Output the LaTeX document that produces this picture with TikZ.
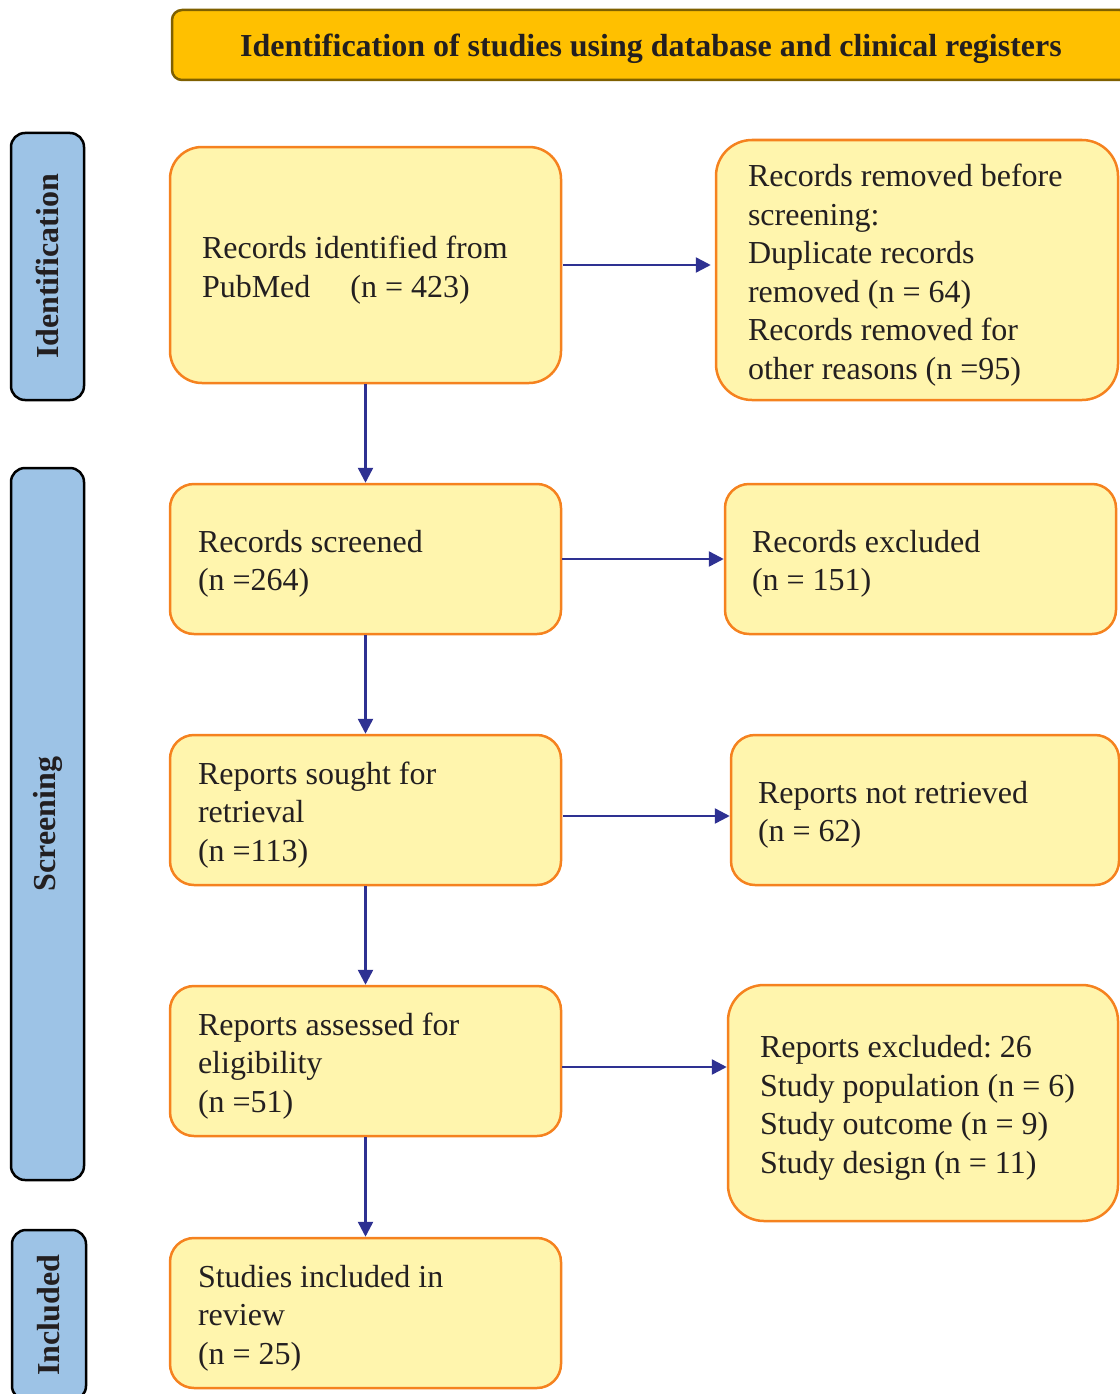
\documentclass[tikz,border=0pt]{standalone}
\usepackage{fontspec}
\setmainfont{Liberation Serif}
\usetikzlibrary{arrows.meta}
\definecolor{hdrfill}{HTML}{FFC000}
\definecolor{hdrline}{HTML}{7F6000}
\definecolor{boxfill}{HTML}{FFF5AD}
\definecolor{boxline}{HTML}{F5821F}
\definecolor{sidefill}{HTML}{9DC3E6}
\definecolor{arrowc}{HTML}{2E3192}
\definecolor{inkc}{HTML}{231F20}
\tikzset{
  hdr/.style={draw=hdrline, fill=hdrfill, line width=2.5pt, rounded corners=10pt, inner sep=0pt},
  hdrtext/.style={font=\fontsize{32}{38.5}\selectfont\bfseries, text=inkc, inner sep=0pt},
  side/.style={draw=black, fill=sidefill, line width=2.5pt, rounded corners=14pt,
    rotate=90, inner sep=0pt, text=inkc, font=\fontsize{32}{38.5}\selectfont\bfseries},
  flowbox/.style={draw=boxline, fill=boxfill, line width=2.5pt, inner sep=0pt},
  boxtext/.style={align=flush left, inner sep=0pt, text=inkc, font=\fontsize{32}{38.5}\selectfont},
  conn/.style={draw=arrowc, line width=2.5pt, -{Triangle[length=15pt,width=15pt]}},
}
\begin{document}
\frenchspacing
\begin{tikzpicture}[x=1pt,y=-1pt]
\useasboundingbox (0,0) rectangle (1119,1394);
% header
\node[hdr, minimum width=958pt, minimum height=70pt] (hdr) at (651,45) {};
\node[hdrtext] (hdrtxt) at (651,49)
  {Identification of studies using database and clinical registers};
% side labels
\node[side, minimum width=267pt, minimum height=73pt] (sid) at (47.5,266.5) {Identification};
\node[side, minimum width=712pt, minimum height=73pt] (sscr) at (47.5,824) {Screening};
\node[side, minimum width=170pt, minimum height=74pt] (sinc) at (49,1315) {Included};
% left column boxes
\node[flowbox, rounded corners=32pt, minimum width=391pt, minimum height=236pt] (b1) at (365.5,265) {};
\node[flowbox, rounded corners=24pt, minimum width=391pt, minimum height=150pt] (b2) at (365.5,559) {};
\node[flowbox, rounded corners=24pt, minimum width=391pt, minimum height=150pt] (b3) at (365.5,810) {};
\node[flowbox, rounded corners=24pt, minimum width=391pt, minimum height=150pt] (b4) at (365.5,1061) {};
\node[flowbox, rounded corners=24pt, minimum width=391pt, minimum height=150pt] (b5) at (365.5,1313) {};
% right column boxes
\node[flowbox, rounded corners=36pt, minimum width=402pt, minimum height=260pt] (r1) at (917,270) {};
\node[flowbox, rounded corners=24pt, minimum width=391pt, minimum height=150pt] (r2) at (920.5,559) {};
\node[flowbox, rounded corners=24pt, minimum width=388pt, minimum height=150pt] (r3) at (925,810) {};
\node[flowbox, rounded corners=36pt, minimum width=390pt, minimum height=236pt] (r4) at (923,1103) {};
% box texts
\node[boxtext, text width=327pt] (b1t) at ([yshift=-5pt]b1.center)
  {Records identified from\\PubMed\hspace{40pt}(n = 423)};
\node[boxtext, text width=335pt] (b2t) at ([yshift=-5pt]b2.center)
  {Records screened\\(n =264)};
\node[boxtext, text width=335pt] (b3t) at ([yshift=-5pt]b3.center)
  {Reports sought for\\retrieval\\(n =113)};
\node[boxtext, text width=335pt] (b4t) at ([yshift=-5pt]b4.center)
  {Reports assessed for\\eligibility\\(n =51)};
\node[boxtext, text width=335pt] (b5t) at ([yshift=-5pt]b5.center)
  {Studies included in\\review\\(n = 25)};
\node[boxtext, text width=338pt] (r1t) at ([yshift=-5pt]r1.center)
  {Records removed before\\screening:\\Duplicate records\\removed (n = 64)\\Records removed for\\other reasons (n =95)};
\node[boxtext, text width=337pt] (r2t) at ([yshift=-5pt]r2.center)
  {Records excluded\\(n = 151)};
\node[boxtext, text width=334pt] (r3t) at ([yshift=-5pt]r3.center)
  {Reports not retrieved\\(n = 62)};
\node[boxtext, text width=326pt] (r4t) at ([yshift=-5pt]r4.center)
  {Reports excluded: 26\\Study population (n = 6)\\Study outcome (n = 9)\\Study design (n = 11)};
% vertical connectors
\draw[conn] (b1.south) -- (b2.north);
\draw[conn] (b2.south) -- (b3.north);
\draw[conn] (b3.south) -- (b4.north);
\draw[conn] (b4.south) -- (b5.north);
% horizontal connectors
\draw[conn, shorten <=1pt, shorten >=4pt] (b1.east) -- (b1.east -| r1.west);
\draw[conn] (b2.east) -- (r2.west);
\draw[conn, shorten <=1pt] ([yshift=-6pt]b3.east) -- ([yshift=-6pt]b3.east -| r3.west);
\draw[conn] ([yshift=-6pt]b4.east) -- ([yshift=-6pt]b4.east -| r4.west);
\end{tikzpicture}
\end{document}
